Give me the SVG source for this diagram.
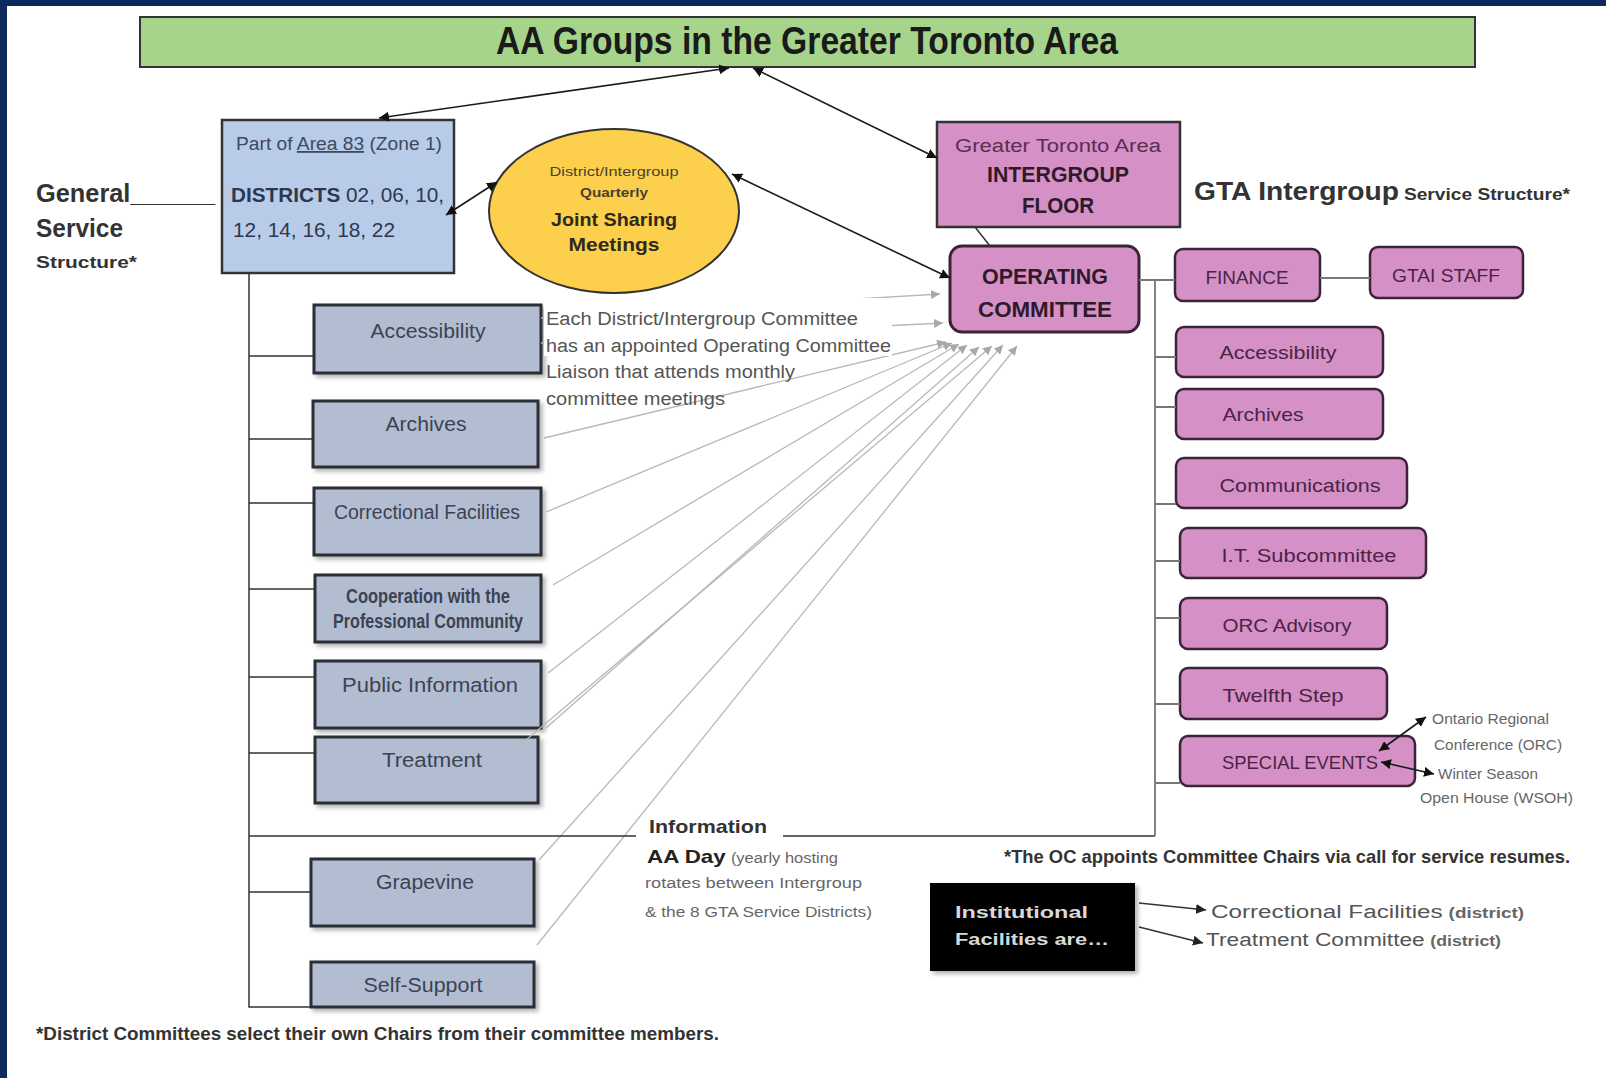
<svg xmlns="http://www.w3.org/2000/svg" width="1606" height="1078" viewBox="0 0 1606 1078">
<style>
text{font-family:"Liberation Sans",Arial,sans-serif}
.title{font-weight:bold;font-size:38px;fill:#1a1a1a}
.bb{fill:#b2bdd1;stroke:#2b2e35;stroke-width:3;filter:url(#sh)}
.bt{font-size:20px;fill:#3b4354;text-anchor:middle}
.pb{fill:#d590c5;stroke:#3d2339;stroke-width:2.5}
.pt{font-size:19px;fill:#4a2446;text-anchor:middle}
.blk{stroke:#1a1a1a;stroke-width:1.6;fill:none;marker-start:url(#ba);marker-end:url(#ba)}
.ln{stroke:#333;stroke-width:1.5;fill:none}
.rl{stroke:#777;stroke-width:1.8;fill:none}
.g{stroke:#b8b8b8;stroke-width:1.3;fill:none;marker-end:url(#ga)}
.note{font-size:18px;fill:#555}
.small{font-size:14px;fill:#666}
</style>
<defs>
<marker id="ba" viewBox="0 0 10 10" refX="10" refY="5" markerWidth="10" markerHeight="10" markerUnits="userSpaceOnUse" orient="auto-start-reverse"><path d="M0,0 L10,5 L0,10 z" fill="#111"/></marker>
<marker id="be" viewBox="0 0 10 10" refX="10" refY="5" markerWidth="10" markerHeight="10" markerUnits="userSpaceOnUse" orient="auto"><path d="M0,0 L10,5 L0,10 z" fill="#222"/></marker>
<marker id="ga" viewBox="0 0 10 10" refX="10" refY="5" markerWidth="9" markerHeight="9" markerUnits="userSpaceOnUse" orient="auto"><path d="M0,0 L10,5 L0,10 z" fill="#a8a8a8"/></marker>
<filter id="sh" x="-10%" y="-10%" width="130%" height="130%"><feDropShadow dx="3" dy="3" stdDeviation="2" flood-color="#000" flood-opacity="0.3"/></filter>
</defs>

<rect x="0" y="0" width="1606" height="1078" fill="#fff"/>
<rect x="0" y="0" width="1606" height="6" fill="#0d2a5e"/>
<rect x="0" y="0" width="7" height="1078" fill="#0d2a5e"/>

<g id="title">
  <rect x="140" y="17" width="1335" height="50" fill="#a6d48a" stroke="#333" stroke-width="2"/>
  <text class="title" x="496" y="54" textLength="622" lengthAdjust="spacingAndGlyphs">AA Groups in the Greater Toronto Area</text>
</g>

<g id="general-service-label">
  <text x="36" y="202" font-size="25" font-weight="bold" fill="#333" textLength="179" lengthAdjust="spacingAndGlyphs">General______</text>
  <text x="36" y="237" font-size="25" font-weight="bold" fill="#333" textLength="87" lengthAdjust="spacingAndGlyphs">Service</text>
  <text x="36" y="268" font-size="16" font-weight="bold" fill="#333" textLength="101" lengthAdjust="spacingAndGlyphs">Structure*</text>
</g>

<g id="districts">
  <rect x="222" y="120" width="232" height="153" fill="#b8cbe8" stroke="#333" stroke-width="2.5"/>
  <text x="236" y="150" font-size="18" fill="#3d4a60" textLength="206" lengthAdjust="spacingAndGlyphs">Part of <tspan text-decoration="underline">Area 83</tspan> (Zone 1)</text>
  <text x="231" y="202" font-size="20" fill="#2c3850" textLength="213" lengthAdjust="spacingAndGlyphs"><tspan font-weight="bold">DISTRICTS</tspan> 02, 06, 10,</text>
  <text x="233" y="237" font-size="20" fill="#2c3850" textLength="162" lengthAdjust="spacingAndGlyphs">12, 14, 16, 18, 22</text>
</g>

<g id="joint-sharing">
  <ellipse cx="614" cy="211" rx="125" ry="82" fill="#fcd04c" stroke="#333" stroke-width="2"/>
  <text x="614" y="176" font-size="12.5" fill="#4a4030" text-anchor="middle" textLength="129" lengthAdjust="spacingAndGlyphs">District/Intergroup</text>
  <text x="614" y="197" font-size="12.5" font-weight="bold" fill="#4a4030" text-anchor="middle" textLength="68" lengthAdjust="spacingAndGlyphs">Quarterly</text>
  <text x="614" y="226" font-size="19" font-weight="bold" fill="#2f2a1a" text-anchor="middle" textLength="126" lengthAdjust="spacingAndGlyphs">Joint Sharing</text>
  <text x="614" y="251" font-size="19" font-weight="bold" fill="#2f2a1a" text-anchor="middle" textLength="91" lengthAdjust="spacingAndGlyphs">Meetings</text>
</g>

<g id="intergroup-floor">
  <rect x="937" y="122" width="243" height="105" fill="#d590c5" stroke="#333" stroke-width="2.5"/>
  <text x="1058" y="152" font-size="18" fill="#5b2d52" text-anchor="middle" textLength="206" lengthAdjust="spacingAndGlyphs">Greater Toronto Area</text>
  <text x="1058" y="182" font-size="22" font-weight="bold" fill="#2e1a2b" text-anchor="middle" textLength="142" lengthAdjust="spacingAndGlyphs">INTERGROUP</text>
  <text x="1058" y="213" font-size="22" font-weight="bold" fill="#2e1a2b" text-anchor="middle" textLength="72" lengthAdjust="spacingAndGlyphs">FLOOR</text>
</g>

<g id="gta-label">
  <text x="1194" y="200" fill="#333" font-weight="bold" textLength="376" lengthAdjust="spacingAndGlyphs"><tspan font-size="25">GTA Intergroup</tspan> <tspan font-size="17">Service Structure*</tspan></text>
</g>

<g id="operating-committee">
  <rect x="950" y="246" width="189" height="86" rx="12" fill="#d590c5" stroke="#3d2339" stroke-width="3"/>
  <text x="1045" y="284" font-size="22" font-weight="bold" fill="#2e1a2b" text-anchor="middle" textLength="126" lengthAdjust="spacingAndGlyphs">OPERATING</text>
  <text x="1045" y="317" font-size="22" font-weight="bold" fill="#2e1a2b" text-anchor="middle" textLength="134" lengthAdjust="spacingAndGlyphs">COMMITTEE</text>
</g>

<g id="finance"><rect class="pb" x="1175" y="249" width="145" height="52" rx="8"/><text class="pt" x="1247" y="284" textLength="83" lengthAdjust="spacingAndGlyphs">FINANCE</text></g>
<g id="gtai-staff"><rect class="pb" x="1370" y="247" width="153" height="51" rx="8"/><text class="pt" x="1446" y="282" textLength="108" lengthAdjust="spacingAndGlyphs">GTAI STAFF</text></g>
<g id="gta-accessibility"><rect class="pb" x="1176" y="327" width="207" height="50" rx="8"/><text class="pt" x="1278" y="359" textLength="117" lengthAdjust="spacingAndGlyphs">Accessibility</text></g>
<g id="gta-archives"><rect class="pb" x="1176" y="389" width="207" height="50" rx="8"/><text class="pt" x="1263" y="421" textLength="81" lengthAdjust="spacingAndGlyphs">Archives</text></g>
<g id="gta-communications"><rect class="pb" x="1176" y="458" width="231" height="50" rx="8"/><text class="pt" x="1300" y="492" textLength="161" lengthAdjust="spacingAndGlyphs">Communications</text></g>
<g id="gta-it"><rect class="pb" x="1180" y="528" width="246" height="50" rx="8"/><text class="pt" x="1309" y="562" textLength="175" lengthAdjust="spacingAndGlyphs">I.T. Subcommittee</text></g>
<g id="gta-orc"><rect class="pb" x="1180" y="598" width="207" height="51" rx="8"/><text class="pt" x="1287" y="632" textLength="129" lengthAdjust="spacingAndGlyphs">ORC Advisory</text></g>
<g id="gta-twelfth"><rect class="pb" x="1180" y="668" width="207" height="51" rx="8"/><text class="pt" x="1283" y="702" textLength="121" lengthAdjust="spacingAndGlyphs">Twelfth Step</text></g>
<g id="gta-special"><rect class="pb" x="1180" y="736" width="235" height="50" rx="8"/><text class="pt" x="1300" y="769" textLength="156" lengthAdjust="spacingAndGlyphs">SPECIAL EVENTS</text></g>

<g id="special-events-notes">
  <text class="small" x="1432" y="724" textLength="117" lengthAdjust="spacingAndGlyphs">Ontario Regional</text>
  <text class="small" x="1434" y="750" textLength="128" lengthAdjust="spacingAndGlyphs">Conference (ORC)</text>
  <text class="small" x="1438" y="779" textLength="100" lengthAdjust="spacingAndGlyphs">Winter Season</text>
  <text class="small" x="1420" y="803" textLength="153" lengthAdjust="spacingAndGlyphs">Open House (WSOH)</text>
</g>

<g id="d-accessibility"><rect class="bb" x="314" y="305" width="227" height="68"/><text class="bt" x="428" y="338" textLength="115" lengthAdjust="spacingAndGlyphs">Accessibility</text></g>
<g id="d-archives"><rect class="bb" x="313" y="401" width="225" height="66"/><text class="bt" x="426" y="431" textLength="81" lengthAdjust="spacingAndGlyphs">Archives</text></g>
<g id="d-correctional"><rect class="bb" x="314" y="488" width="227" height="67"/><text class="bt" x="427" y="519" textLength="186" lengthAdjust="spacingAndGlyphs">Correctional Facilities</text></g>
<g id="d-cpc"><rect class="bb" x="315" y="575" width="226" height="67"/>
  <text class="bt" x="428" y="603" font-size="14" font-weight="bold" textLength="164" lengthAdjust="spacingAndGlyphs">Cooperation with the</text>
  <text class="bt" x="428" y="628" font-size="14" font-weight="bold" textLength="190" lengthAdjust="spacingAndGlyphs">Professional Community</text></g>
<g id="d-public-info"><rect class="bb" x="315" y="661" width="226" height="67"/><text class="bt" x="430" y="692" textLength="176" lengthAdjust="spacingAndGlyphs">Public Information</text></g>
<g id="d-treatment"><rect class="bb" x="315" y="737" width="223" height="66"/><text class="bt" x="432" y="767" textLength="100" lengthAdjust="spacingAndGlyphs">Treatment</text></g>
<g id="d-grapevine"><rect class="bb" x="311" y="859" width="223" height="67"/><text class="bt" x="425" y="889" textLength="98" lengthAdjust="spacingAndGlyphs">Grapevine</text></g>
<g id="d-self-support"><rect class="bb" x="311" y="962" width="223" height="45"/><text class="bt" x="423" y="992" textLength="119" lengthAdjust="spacingAndGlyphs">Self-Support</text></g>

<g id="institutional">
  <rect x="930" y="883" width="205" height="88" fill="#050505" filter="url(#sh)"/>
  <text x="955" y="918" font-family="DejaVu Sans, sans-serif" font-size="16" font-weight="bold" fill="#d8d8d8" textLength="133" lengthAdjust="spacingAndGlyphs">Institutional</text>
  <text x="955" y="945" font-family="DejaVu Sans, sans-serif" font-size="16" font-weight="bold" fill="#d8d8d8" textLength="154" lengthAdjust="spacingAndGlyphs">Facilities are…</text>
</g>

<!-- connectors -->
<g id="connectors">
  <line class="g" x1="541" y1="318" x2="940" y2="294"/>
  <line class="g" x1="541" y1="343" x2="943" y2="323"/>
  <line class="g" x1="544" y1="438" x2="946" y2="342"/>
  <line class="g" x1="546" y1="512" x2="952" y2="343"/>
  <line class="g" x1="553" y1="585" x2="959" y2="344"/>
  <line class="g" x1="548" y1="673" x2="967" y2="345"/>
  <line class="g" x1="546" y1="728" x2="979" y2="347"/>
  <line class="g" x1="513" y1="751" x2="992" y2="346"/>
  <line class="g" x1="539" y1="860" x2="1003" y2="345"/>
  <line class="g" x1="537" y1="945" x2="1017" y2="346"/>
  <line class="blk" x1="729" y1="68" x2="379" y2="118"/>
  <line class="blk" x1="753" y1="68" x2="937" y2="158"/>
  <line class="blk" x1="446" y1="215" x2="497" y2="182"/>
  <line class="blk" x1="732" y1="174" x2="950" y2="278"/>
  <line class="ln" x1="975" y1="227" x2="990" y2="246"/>
  <path class="ln" d="M249,273 V1007 H311"/>
  <path class="ln" d="M249,356 H314 M249,439 H313 M249,503 H314 M249,589 H315 M249,677 H315 M249,753 H315 M249,892 H311"/>
  <path class="ln" d="M249,836 H636 M783,836 H1155"/>
  <path class="rl" d="M1139,280 H1175 M1320,278 H1370"/>
  <path class="rl" d="M1155,280 V836"/>
  <path class="rl" d="M1155,357 H1176 M1155,407 H1176 M1155,504 H1176 M1155,561 H1180 M1155,618 H1180 M1155,704 H1180 M1155,783 H1180"/>
  <line class="blk" x1="1379" y1="751" x2="1426" y2="717"/>
  <line class="blk" x1="1381" y1="762" x2="1434" y2="774"/>
  <line stroke="#333" stroke-width="1.5" marker-end="url(#be)" x1="1139" y1="903" x2="1206" y2="910"/>
  <line stroke="#333" stroke-width="1.5" marker-end="url(#be)" x1="1139" y1="927" x2="1203" y2="943"/>
</g>

<g id="liaison-note">
  <rect x="544" y="298" width="348" height="58" fill="#fff"/>
  <text class="note" x="546" y="325" textLength="312" lengthAdjust="spacingAndGlyphs">Each District/Intergroup Committee</text>
  <text class="note" x="546" y="352" textLength="345" lengthAdjust="spacingAndGlyphs">has an appointed Operating Committee</text>
  <text class="note" x="546" y="378" textLength="249" lengthAdjust="spacingAndGlyphs">Liaison that attends monthly</text>
  <text class="note" x="546" y="405" textLength="179" lengthAdjust="spacingAndGlyphs">committee meetings</text>
</g>

<g id="information">
  <text x="649" y="833" font-size="19" font-weight="bold" fill="#333" textLength="118" lengthAdjust="spacingAndGlyphs">Information</text>
  <text x="647" y="863" fill="#666" textLength="191" lengthAdjust="spacingAndGlyphs"><tspan font-size="19" font-weight="bold" fill="#222">AA Day</tspan> <tspan font-size="14">(yearly hosting</tspan></text>
  <text class="small" x="645" y="888" textLength="217" lengthAdjust="spacingAndGlyphs">rotates between Intergroup</text>
  <text class="small" x="645" y="917" textLength="227" lengthAdjust="spacingAndGlyphs">&amp; the 8 GTA Service Districts)</text>
</g>

<g id="oc-footnote">
  <text x="1004" y="863" font-size="19" font-weight="bold" fill="#333" textLength="566" lengthAdjust="spacingAndGlyphs">*The OC appoints Committee Chairs via call for service resumes.</text>
</g>

<g id="institutional-targets">
  <text x="1211" y="918" font-family="DejaVu Sans, sans-serif" fill="#555" textLength="313" lengthAdjust="spacingAndGlyphs"><tspan font-size="18">Correctional Facilities</tspan> <tspan font-size="14" font-weight="bold" fill="#666">(district)</tspan></text>
  <text x="1206" y="946" font-family="DejaVu Sans, sans-serif" fill="#555" textLength="295" lengthAdjust="spacingAndGlyphs"><tspan font-size="18">Treatment Committee</tspan> <tspan font-size="14" font-weight="bold" fill="#666">(district)</tspan></text>
</g>

<g id="district-footnote">
  <text x="36" y="1040" font-size="18" font-weight="bold" fill="#333" textLength="683" lengthAdjust="spacingAndGlyphs">*District Committees select their own Chairs from their committee members.</text>
</g>
</svg>
